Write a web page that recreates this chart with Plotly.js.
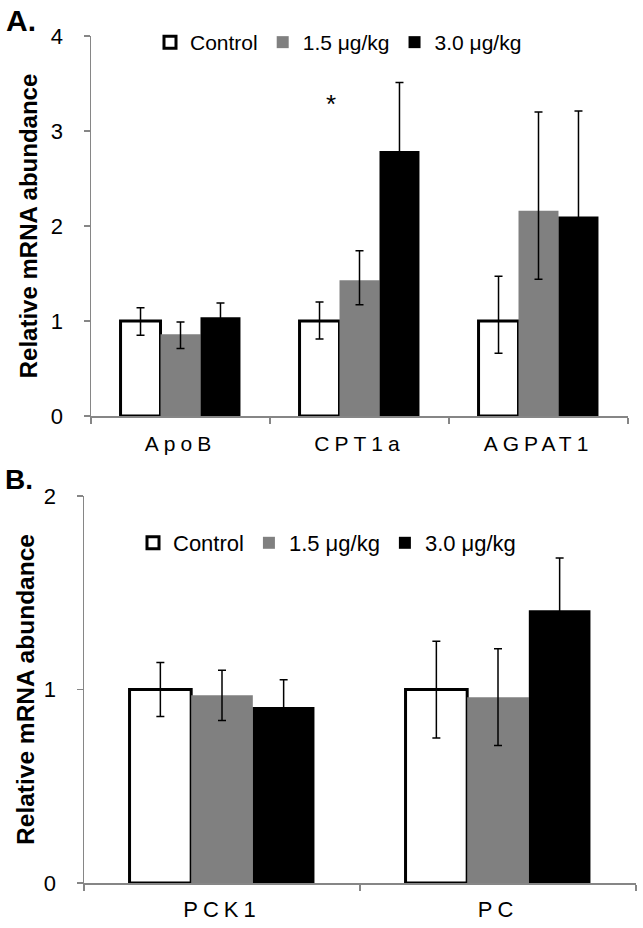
<!DOCTYPE html>
<html>
<head>
<meta charset="utf-8">
<script src="https://cdn.plot.ly/plotly-3.0.1.min.js"></script>
<style>
  html, body { margin: 0; padding: 0; background: #fff; }
  #chart { width: 643px; height: 928px; }
  .xtick text { letter-spacing: 5px !important; }
  .x2tick text { letter-spacing: 5px !important; }
</style>
</head>
<body>
<div id="chart"></div>
<script>
// ---- Panel A data ----
const topCategories = ['ApoB', 'CPT1a', 'AGPAT1'];
const topControl = [1.00, 1.00, 1.00];
const topControlErrPlus = [0.14, 0.20, 0.47];
const topControlErrMinus = [0.15, 0.19, 0.34];
const top15 = [0.86, 1.43, 2.16];
const top15ErrPlus = [0.13, 0.31, 1.04];
const top15ErrMinus = [0.15, 0.26, 0.72];
const top30 = [1.04, 2.79, 2.10];
const top30Err = [0.15, 0.72, 1.11];

// ---- Panel B data ----
const botCategories = ['PCK1', 'PC'];
const botControl = [1.00, 1.00];
const botControlErr = [0.14, 0.25];
const bot15 = [0.97, 0.96];
const bot15Err = [0.13, 0.25];
const bot30 = [0.91, 1.41];
const bot30Err = [0.14, 0.27];

const seriesNames = ['Control', '1.5 μg/kg', '3.0 μg/kg'];
const yTitle = 'Relative mRNA abundance';

const FONT = 'Liberation Sans, Arial, sans-serif';
const AXIS_COLOR = '#868686';

function eb(plus, minus) {
  const o = { type: 'data', array: plus, color: '#000', thickness: 1.5, width: 4, visible: true };
  if (minus) { o.symmetric = false; o.arrayminus = minus; } else { o.symmetric = true; }
  return o;
}

const ctrlMarker = { color: '#ffffff', line: { color: '#000000', width: 3 } };
const grayMarker = { color: '#808080', line: { width: 0 } };
const blackMarker = { color: '#000000', line: { width: 0 } };

const traces = [
  { type: 'bar', name: seriesNames[0], x: topCategories, y: topControl, error_y: eb(topControlErrPlus, topControlErrMinus), marker: ctrlMarker, xaxis: 'x', yaxis: 'y', legend: 'legend' },
  { type: 'bar', name: seriesNames[1], x: topCategories, y: top15, error_y: eb(top15ErrPlus, top15ErrMinus), marker: grayMarker, xaxis: 'x', yaxis: 'y', legend: 'legend' },
  { type: 'bar', name: seriesNames[2], x: topCategories, y: top30, error_y: eb(top30Err), marker: blackMarker, xaxis: 'x', yaxis: 'y', legend: 'legend' },
  { type: 'bar', name: seriesNames[0], x: botCategories, y: botControl, error_y: eb(botControlErr), marker: ctrlMarker, xaxis: 'x2', yaxis: 'y2', legend: 'legend2' },
  { type: 'bar', name: seriesNames[1], x: botCategories, y: bot15, error_y: eb(bot15Err), marker: grayMarker, xaxis: 'x2', yaxis: 'y2', legend: 'legend2' },
  { type: 'bar', name: seriesNames[2], x: botCategories, y: bot30, error_y: eb(bot30Err), marker: blackMarker, xaxis: 'x2', yaxis: 'y2', legend: 'legend2' }
];

const W = 643, H = 928;
const px = v => v / W;
const py = v => (H - v) / H;

function xAxis(domain, anchor, size, labelOff) {
  return {
    domain: domain, anchor: anchor, type: 'category',
    showline: true, linecolor: AXIS_COLOR, linewidth: 1.5,
    ticks: 'outside', tickson: 'boundaries', ticklen: 6, tickcolor: AXIS_COLOR, tickwidth: 1.5,
    ticklabelstandoff: labelOff,
    showgrid: false, zeroline: false,
    tickfont: { family: FONT, size: size, color: '#000' },
    fixedrange: true
  };
}
function yAxis(domain, anchor, range, size, titleSize, standoff) {
  return {
    domain: domain, anchor: anchor, range: range, dtick: 1, tick0: 0,
    showline: true, linecolor: AXIS_COLOR, linewidth: 1.5,
    ticks: 'outside', ticklen: 6, tickcolor: AXIS_COLOR, tickwidth: 1.5,
    ticklabelstandoff: 16,
    showgrid: false, zeroline: false,
    tickfont: { family: FONT, size: size, color: '#000' },
    title: { text: yTitle, font: { family: FONT, size: titleSize, color: '#000', weight: 'bold' }, standoff: standoff },
    fixedrange: true
  };
}

const layout = {
  width: W, height: H,
  margin: { l: 0, r: 0, t: 0, b: 0 },
  paper_bgcolor: '#fff', plot_bgcolor: '#fff',
  barmode: 'group', bargap: 0.33, bargroupgap: 0,
  xaxis: xAxis([px(91), px(628)], 'y', 21, 8),
  yaxis: yAxis([py(416), py(36)], 'x', [0, 4], 22, 24, 6),
  xaxis2: xAxis([px(84), px(636)], 'y2', 22, 6),
  yaxis2: yAxis([py(883), py(496)], 'x2', [0, 2], 22, 24.5, 2),
  legend: {
    orientation: 'h', x: px(150), y: py(22), xanchor: 'left', yanchor: 'top',
    font: { family: FONT, size: 21, color: '#000' }, bgcolor: 'rgba(0,0,0,0)', traceorder: 'normal'
  },
  legend2: {
    orientation: 'h', x: px(133), y: py(522), xanchor: 'left', yanchor: 'top',
    font: { family: FONT, size: 22, color: '#000' }, bgcolor: 'rgba(0,0,0,0)', traceorder: 'normal'
  },
  annotations: [
    { text: '<b>A.</b>', xref: 'paper', yref: 'paper', x: px(4), y: py(2), xanchor: 'left', yanchor: 'top', showarrow: false, font: { family: FONT, size: 30, color: '#000' } },
    { text: '<b>B.</b>', xref: 'paper', yref: 'paper', x: px(3), y: py(462), xanchor: 'left', yanchor: 'top', showarrow: false, font: { family: FONT, size: 28, color: '#000' } },
    { text: '*', xref: 'x', yref: 'y', x: 0.84, y: 3.28, showarrow: false, font: { family: FONT, size: 26, color: '#000' } }
  ],
  showlegend: true
};

Plotly.newPlot('chart', traces, layout, { displayModeBar: false, staticPlot: true });
</script>
</body>
</html>
